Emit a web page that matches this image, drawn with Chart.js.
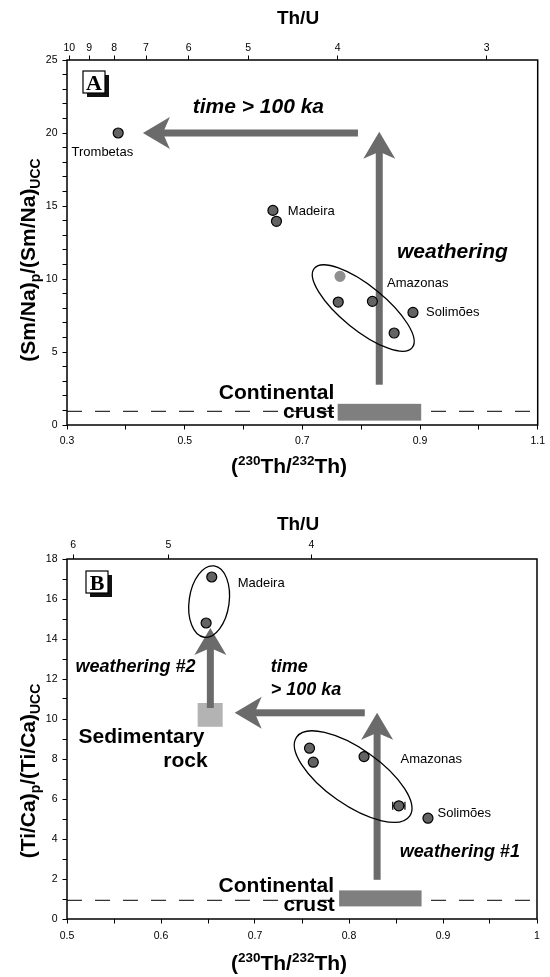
<!DOCTYPE html>
<html>
<head>
<meta charset="utf-8">
<title>(230Th/232Th) vs weathering indices</title>
<script src="https://cdn.jsdelivr.net/npm/chart.js@4.4.1/dist/chart.umd.min.js"></script>
<style>
  html, body { margin: 0; padding: 0; background: #fff; }
  canvas { display: block; }
</style>
</head>
<body>
<canvas id="panelA" width="550" height="488"></canvas>
<canvas id="panelB" width="550" height="489"></canvas>
<script>
// (230Th/232Th) activity = factor / (Th/U), used for the top axis
const THU_FACTOR = 3.04;
const UCC_LEVEL = 0.93;

// Panel A: (Sm/Na)p/(Sm/Na)UCC
const thuTicksA = [10, 9, 8, 7, 6, 5, 4, 3];
const trombetasThA = [0.387];
const trombetasSmA = [20.0];
const madeiraThA = [0.650, 0.656];
const madeiraSmA = [14.7, 13.95];
const amazonasThA = [0.761, 0.819, 0.856];
const amazonasSmA = [8.42, 8.47, 6.3];
const amazonasLightThA = [0.764];
const amazonasLightSmA = [10.18];
const solimoesThA = [0.888];
const solimoesSmA = [7.71];

// Panel B: (Ti/Ca)p/(Ti/Ca)UCC
const thuTicksB = [6, 5, 4];
const madeiraThB = [0.654, 0.648];
const madeiraTiB = [17.1, 14.8];
const amazonasThB = [0.758, 0.762, 0.816, 0.853];
const amazonasTiB = [8.54, 7.84, 8.12, 5.66];
const amazonasErrB = [0, 0, 0, 0.0065];
const solimoesThB = [0.884];
const solimoesTiB = [5.04];

const FONT = '"Liberation Sans", Arial, Helvetica, sans-serif';
const SERIF = '"Liberation Serif", "Times New Roman", serif';
const ARROW = '#6b6b6b';
const DOT = '#636363';

function pts(xs, ys) {
  return xs.map((x, i) => ({ x: x, y: ys[i] }));
}

function pointSet(label, xs, ys, fill, edge) {
  return {
    type: 'scatter',
    label: label,
    data: pts(xs, ys),
    pointRadius: 5,
    pointHoverRadius: 5,
    pointBorderWidth: 1.2,
    pointBackgroundColor: fill,
    pointBorderColor: edge
  };
}

// ---- annotation layout (data units unless noted) ----
const panelA = {
  canvasId: 'panelA',
  xMin: 0.3, xMax: 1.1, xStep: 0.1,
  xLabel: (v) => Math.round(v * 10) % 2 === 1,
  yMin: 0, yMax: 25, yLabelEvery: 5,
  thuTicks: thuTicksA,
  box: { top: 60, bottom: 63, left: 67, right: 12 },
  pad: { top: 1, bottom: 5 },
  letter: { text: 'A', px: 83, py: 71 },
  topTitleY: 23.5, bottomTitleY: 473, yTitleCenter: 260,
  yTitle: [['(Sm/Na)', 21, 0], ['p', 14, 5], ['/(Sm/Na)', 21, 0], ['UCC', 14, 5]],
  datasets: [
    pointSet('Trombetas', trombetasThA, trombetasSmA, DOT, '#000'),
    pointSet('Madeira', madeiraThA, madeiraSmA, DOT, '#000'),
    pointSet('Amazonas', amazonasThA, amazonasSmA, DOT, '#000'),
    pointSet('Amazonas (light)', amazonasLightThA, amazonasLightSmA, '#8f8f8f', '#8f8f8f'),
    pointSet('Solimões', solimoesThA, solimoesSmA, DOT, '#000')
  ],
  errors: null,
  underRects: [],
  rects: [{ x0: 0.760, x1: 0.902, y0: 0.3, y1: 1.45, color: '#7f7f7f' }],
  arrows: [
    { from: [0.7945, 20], to: [0.429, 20] },
    { from: [0.8307, 2.76], to: [0.8307, 20.09] }
  ],
  ellipses: [{ x: 0.8035, y: 8.01, rx: 63, ry: 22, angle: 39 }],
  texts: [
    { text: 'Trombetas', x: 0.3077, y: 18.45, font: '13px ' + FONT },
    { text: 'Madeira', x: 0.6753, y: 14.40, font: '13px ' + FONT },
    { text: 'Amazonas', x: 0.8438, y: 9.48, font: '13px ' + FONT },
    { text: 'Solimões', x: 0.9102, y: 7.49, font: '13px ' + FONT },
    { text: 'time > 100 ka', x: 0.5136, y: 21.4, font: 'italic bold 21px ' + FONT },
    { text: 'weathering', x: 0.8608, y: 11.46, font: 'italic bold 21px ' + FONT },
    { text: 'Continental', x: 0.7543, y: 1.77, font: 'bold 21px ' + FONT, align: 'right' },
    { text: 'crust', x: 0.7543, y: 0.47, font: 'bold 21px ' + FONT, align: 'right' }
  ]
};

const panelB = {
  canvasId: 'panelB',
  xMin: 0.5, xMax: 1.0, xStep: 0.05,
  xLabel: (v) => Math.round(v * 100) % 10 === 0,
  yMin: 0, yMax: 18, yLabelEvery: 2,
  thuTicks: thuTicksB,
  box: { top: 71, bottom: 58, left: 67, right: 13 },
  pad: { top: 3, bottom: 6 },
  letter: { text: 'B', px: 86, py: 83 },
  topTitleY: 41.5, bottomTitleY: 482, yTitleCenter: 283,
  yTitle: [['(Ti/Ca)', 21, 0], ['p', 14, 5], ['/(Ti/Ca)', 21, 0], ['UCC', 14, 5]],
  datasets: [
    pointSet('Madeira', madeiraThB, madeiraTiB, DOT, '#000'),
    pointSet('Amazonas', amazonasThB, amazonasTiB, DOT, '#000'),
    pointSet('Solimões', solimoesThB, solimoesTiB, DOT, '#000')
  ],
  errors: { xs: amazonasThB, ys: amazonasTiB, err: amazonasErrB },
  underRects: [{ x0: 0.639, x1: 0.6656, y0: 9.61, y1: 10.8, color: '#b3b3b3' }],
  rects: [{ x0: 0.7895, x1: 0.8772, y0: 0.63, y1: 1.43, color: '#7f7f7f' }],
  arrows: [
    { from: [0.8168, 10.31], to: [0.6784, 10.31] },
    { from: [0.8299, 1.96], to: [0.8299, 10.31] },
    { from: [0.6525, 10.55], to: [0.6525, 14.55] }
  ],
  ellipses: [
    { x: 0.6512, y: 15.87, rx: 20, ry: 36, angle: 8 },
    { x: 0.8044, y: 7.12, rx: 69, ry: 28, angle: 35 }
  ],
  texts: [
    { text: 'Madeira', x: 0.6816, y: 16.6, font: '13px ' + FONT },
    { text: 'Amazonas', x: 0.8548, y: 7.81, font: '13px ' + FONT },
    { text: 'Solimões', x: 0.8942, y: 5.11, font: '13px ' + FONT },
    { text: 'weathering #2', x: 0.509, y: 12.35, font: 'italic bold 18px ' + FONT },
    { text: 'time', x: 0.7167, y: 12.35, font: 'italic bold 18px ' + FONT },
    { text: '> 100 ka', x: 0.7167, y: 11.2, font: 'italic bold 18px ' + FONT },
    { text: 'Sedimentary', x: 0.5122, y: 8.81, font: 'bold 21px ' + FONT },
    { text: 'rock', x: 0.6496, y: 7.61, font: 'bold 21px ' + FONT, align: 'right' },
    { text: 'weathering #1', x: 0.8541, y: 3.11, font: 'italic bold 18px ' + FONT },
    { text: 'Continental', x: 0.7841, y: 1.33, font: 'bold 21px ' + FONT, align: 'right' },
    { text: 'crust', x: 0.7849, y: 0.38, font: 'bold 21px ' + FONT, align: 'right' }
  ]
};

function drawArrow(ctx, x0, y0, x1, y1) {
  const shaft = 7, headLen = 27, headHalf = 16;
  const ang = Math.atan2(y1 - y0, x1 - x0);
  const len = Math.hypot(x1 - x0, y1 - y0);
  ctx.save();
  ctx.translate(x0, y0);
  ctx.rotate(ang);
  ctx.fillStyle = ARROW;
  ctx.fillRect(0, -shaft / 2, len - headLen * 0.7, shaft);
  ctx.beginPath();
  ctx.moveTo(len, 0);
  ctx.lineTo(len - headLen, -headHalf);
  ctx.lineTo(len - headLen * 0.74, 0);
  ctx.lineTo(len - headLen, headHalf);
  ctx.closePath();
  ctx.fill();
  ctx.restore();
}

// text made of runs [text, size, baselineShift], centred on x
function drawRuns(ctx, runs, x, y) {
  let total = 0;
  runs.forEach((r) => {
    ctx.font = 'bold ' + r[1] + 'px ' + FONT;
    total += ctx.measureText(r[0]).width;
  });
  let cx = x - total / 2;
  ctx.textAlign = 'left';
  ctx.textBaseline = 'alphabetic';
  runs.forEach((r) => {
    ctx.font = 'bold ' + r[1] + 'px ' + FONT;
    ctx.fillText(r[0], cx, y + r[2]);
    cx += ctx.measureText(r[0]).width;
  });
}

function makeOverlay(panel) {
  const toPx = (chart, x, y) => [chart.scales.x.getPixelForValue(x), chart.scales.y.getPixelForValue(y)];
  const fillRects = (chart, list) => {
    const ctx = chart.ctx;
    list.forEach((r) => {
      const a = toPx(chart, r.x0, r.y1);
      const b = toPx(chart, r.x1, r.y0);
      ctx.fillStyle = r.color;
      ctx.fillRect(a[0], a[1], b[0] - a[0], b[1] - a[1]);
    });
  };

  return {
    id: 'overlay_' + panel.canvasId,
    beforeDatasetsDraw(chart) {
      const ctx = chart.ctx;
      ctx.save();
      fillRects(chart, panel.underRects);
      panel.arrows.forEach((a) => {
        const p0 = toPx(chart, a.from[0], a.from[1]);
        const p1 = toPx(chart, a.to[0], a.to[1]);
        drawArrow(ctx, p0[0], p0[1], p1[0], p1[1]);
      });
      // horizontal error bars
      if (panel.errors) {
        ctx.strokeStyle = '#000';
        ctx.lineWidth = 1.2;
        panel.errors.err.forEach((e, i) => {
          if (!e) return;
          const l = toPx(chart, panel.errors.xs[i] - e, panel.errors.ys[i]);
          const r = toPx(chart, panel.errors.xs[i] + e, panel.errors.ys[i]);
          ctx.beginPath();
          ctx.moveTo(l[0], l[1]); ctx.lineTo(r[0], r[1]);
          ctx.moveTo(l[0], l[1] - 4); ctx.lineTo(l[0], l[1] + 4);
          ctx.moveTo(r[0], r[1] - 4); ctx.lineTo(r[0], r[1] + 4);
          ctx.stroke();
        });
      }
      ctx.restore();
    },
    afterDatasetsDraw(chart) {
      const ctx = chart.ctx;
      const area = chart.chartArea;
      ctx.save();
      fillRects(chart, panel.rects);

      ctx.strokeStyle = '#000';
      ctx.lineWidth = 1.3;
      panel.ellipses.forEach((e) => {
        const c = toPx(chart, e.x, e.y);
        ctx.beginPath();
        ctx.ellipse(c[0], c[1], e.rx, e.ry, e.angle * Math.PI / 180, 0, Math.PI * 2);
        ctx.stroke();
      });

      ctx.fillStyle = '#000';
      ctx.textBaseline = 'alphabetic';
      panel.texts.forEach((t) => {
        const p = toPx(chart, t.x, t.y);
        ctx.font = t.font;
        ctx.textAlign = t.align || 'left';
        ctx.fillText(t.text, p[0], p[1]);
      });

      // frame
      ctx.lineWidth = 1.5;
      ctx.strokeRect(area.left, area.top, area.right - area.left, area.bottom - area.top);

      // panel letter with drop shadow
      const L = panel.letter;
      ctx.fillStyle = '#111';
      ctx.fillRect(L.px + 4, L.py + 4, 22, 22);
      ctx.fillStyle = '#fff';
      ctx.fillRect(L.px, L.py, 22, 22);
      ctx.lineWidth = 1.2;
      ctx.strokeRect(L.px, L.py, 22, 22);
      ctx.fillStyle = '#000';
      ctx.font = 'bold 22px ' + SERIF;
      ctx.textAlign = 'center';
      ctx.fillText(L.text, L.px + 11, L.py + 19);

      // axis titles
      ctx.font = 'bold 19px ' + FONT;
      ctx.textAlign = 'center';
      ctx.fillText('Th/U', 298, panel.topTitleY);
      drawRuns(ctx, [['(', 21, 0], ['230', 13.5, -8], ['Th/', 21, 0], ['232', 13.5, -8], ['Th)', 21, 0]],
        289, panel.bottomTitleY);

      ctx.translate(35, panel.yTitleCenter);
      ctx.rotate(-Math.PI / 2);
      drawRuns(ctx, panel.yTitle, 0, 0);
      ctx.restore();
    }
  };
}

function tickFont() {
  return { family: FONT, size: 10.5 };
}

function buildPanel(panel) {
  const canvas = document.getElementById(panel.canvasId);
  const ctx = canvas.getContext('2d');
  const tickGrid = { drawOnChartArea: false, drawTicks: true, tickLength: 4.5, color: '#000', lineWidth: 1 };

  const uccLine = {
    type: 'line',
    label: 'UCC',
    data: pts([panel.xMin, panel.xMax], [UCC_LEVEL, UCC_LEVEL]),
    borderColor: '#333',
    borderWidth: 1.2,
    borderDash: [15, 13],
    pointRadius: 0,
    fill: false
  };

  return new Chart(ctx, {
    type: 'scatter',
    data: { datasets: panel.datasets.concat([uccLine]) },
    options: {
      responsive: false,
      animation: false,
      layout: { padding: { left: 0, top: 0, right: panel.box.right, bottom: 0 } },
      plugins: { legend: { display: false }, tooltip: { enabled: false }, title: { display: false } },
      scales: {
        x: {
          type: 'linear', position: 'bottom',
          min: panel.xMin, max: panel.xMax,
          grid: tickGrid,
          border: { display: false },
          ticks: {
            stepSize: panel.xStep, autoSkip: false, maxRotation: 0, padding: panel.pad.bottom,
            color: '#000', font: tickFont(),
            callback: (v) => panel.xLabel(v) ? String(Math.round(v * 10) / 10) : ''
          },
          afterFit: (s) => { s.height = panel.box.bottom; }
        },
        xTop: {
          type: 'linear', position: 'top',
          min: panel.xMin, max: panel.xMax,
          grid: tickGrid,
          border: { display: false },
          afterBuildTicks: (s) => {
            s.ticks = panel.thuTicks.map((t) => ({ value: THU_FACTOR / t }));
          },
          ticks: {
            autoSkip: false, maxRotation: 0, padding: panel.pad.top, color: '#000', font: tickFont(),
            callback: (v, i) => String(panel.thuTicks[i])
          },
          afterFit: (s) => { s.height = panel.box.top; }
        },
        y: {
          type: 'linear', position: 'left',
          min: panel.yMin, max: panel.yMax,
          grid: tickGrid,
          border: { display: false },
          ticks: {
            stepSize: 1, autoSkip: false, padding: 5, color: '#000', font: tickFont(),
            callback: (v) => (v % panel.yLabelEvery === 0 ? String(v) : '')
          },
          afterFit: (s) => { s.width = panel.box.left; }
        }
      }
    },
    plugins: [makeOverlay(panel)]
  });
}

buildPanel(panelA);
buildPanel(panelB);
</script>
</body>
</html>
